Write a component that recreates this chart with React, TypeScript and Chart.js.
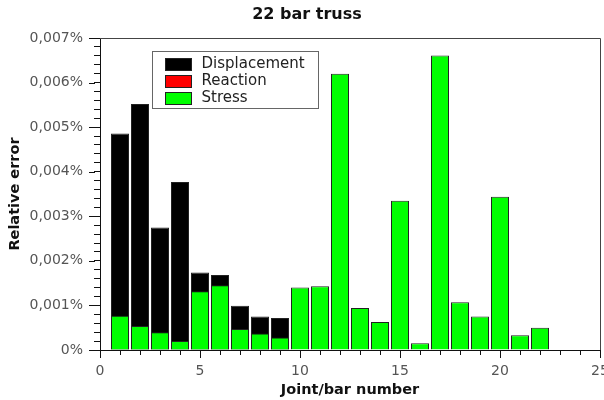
import { useEffect, useRef } from 'react';
import { Chart, registerables } from 'chart.js';

Chart.register(...registerables);

const chartTitle = '22 bar truss';
const xAxisTitle = 'Joint/bar number';
const yAxisTitle = 'Relative error';

const seriesNames = ['Displacement', 'Reaction', 'Stress'];
const seriesColors = ['#000000', '#ff0000', '#00ff00'];

// joint numbers and relative errors (in %)
const displacementJoints = [1, 2, 3, 4, 5, 6, 7, 8, 9];
const displacementError = [0.00486, 0.00552, 0.00275, 0.00377, 0.00174, 0.00168, 0.00099, 0.00075, 0.00072];

const reactionJoints: number[] = [];
const reactionError: number[] = [];

const stressBars = [1, 2, 3, 4, 5, 6, 7, 8, 9, 10, 11, 12, 13, 14, 15, 16, 17, 18, 19, 20, 21, 22];
const stressError = [
  0.00077, 0.00054, 0.0004, 0.0002, 0.00132, 0.00145, 0.00047, 0.00037, 0.00028, 0.0014, 0.00143,
  0.0062, 0.00094, 0.00063, 0.00335, 0.00015, 0.00661, 0.00107, 0.00075, 0.00344, 0.00033, 0.0005,
];

const xTicks = [0, 5, 10, 15, 20, 25];
const xTickLabels = ['0', '5', '10', '15', '20', '25'];
const yTicks = [0, 0.001, 0.002, 0.003, 0.004, 0.005, 0.006, 0.007];
const yTickLabels = ['0%', '0,001%', '0,002%', '0,003%', '0,004%', '0,005%', '0,006%', '0,007%'];
const minorPerMajor = 5;

const FONT = "'DejaVu Sans', sans-serif";

// every major tick plus the minor subdivisions between them
const withMinors = (majors: number[]) => {
  const out: { value: number; major: boolean; label: number }[] = [];
  majors.forEach((m, k) => {
    out.push({ value: m, major: true, label: k });
    if (k < majors.length - 1) {
      for (let j = 1; j < minorPerMajor; j++) {
        out.push({ value: m + ((majors[k + 1] - m) * j) / minorPerMajor, major: false, label: -1 });
      }
    }
  });
  return out;
};

const framePlugin = {
  id: 'frameAndLegend',
  afterDraw(chart: any) {
    const { ctx, chartArea } = chart;
    const { left, right, top, bottom } = chartArea;
    const x = chart.scales.x;
    const y = chart.scales.y;
    const L = Math.round(left);
    const B = Math.round(bottom);
    ctx.save();
    ctx.lineWidth = 1;
    ctx.strokeStyle = '#444';
    ctx.beginPath();
    ctx.moveTo(L, Math.round(top) + 0.5);
    ctx.lineTo(Math.round(right) + 0.5, Math.round(top) + 0.5);
    ctx.lineTo(Math.round(right) + 0.5, B);
    ctx.stroke();

    // lengthen the major ticks
    ctx.strokeStyle = '#111';
    ctx.beginPath();
    xTicks.forEach((v) => {
      const px = Math.round(x.getPixelForValue(v)) + 0.5;
      ctx.moveTo(px, B + 4);
      ctx.lineTo(px, B + 8);
    });
    yTicks.forEach((v) => {
      const py = Math.round(y.getPixelForValue(v)) + 0.5;
      ctx.moveTo(L - 11, py);
      ctx.lineTo(L - 5, py);
    });
    ctx.stroke();

    // legend box inside the plot area
    const datasets = chart.data.datasets;
    const bx = L + 52.5;
    const by = Math.round(top) + 13.5;
    const bw = 166;
    const bh = 57;
    ctx.fillStyle = '#ffffff';
    ctx.fillRect(bx, by, bw, bh);
    ctx.strokeStyle = '#666';
    ctx.strokeRect(bx, by, bw, bh);
    ctx.font = `15px ${FONT}`;
    ctx.textBaseline = 'middle';
    ctx.textAlign = 'left';
    datasets.forEach((ds: any, i: number) => {
      const cy = by + 13 + i * 17;
      ctx.fillStyle = ds.backgroundColor;
      ctx.fillRect(bx + 13, cy - 6, 26, 12);
      ctx.strokeStyle = '#222';
      ctx.strokeRect(bx + 13, cy - 6, 26, 12);
      ctx.fillStyle = '#222';
      ctx.fillText(ds.label, bx + 49, cy);
    });
    ctx.restore();
  },
};

export default function App() {
  const canvasRef = useRef<HTMLCanvasElement | null>(null);

  useEffect(() => {
    if (!canvasRef.current) return;
    const mk = (xs: number[], ys: number[]) => xs.map((x, i) => ({ x, y: ys[i] }));
    const xAll = withMinors(xTicks);
    const yAll = withMinors(yTicks);
    const chart = new Chart(canvasRef.current, {
      type: 'bar',
      data: {
        datasets: [
          {
            label: seriesNames[0],
            data: mk(displacementJoints, displacementError),
            backgroundColor: seriesColors[0],
            borderColor: '#222',
            borderWidth: 1,
            order: 2,
          },
          {
            label: seriesNames[1],
            data: mk(reactionJoints, reactionError),
            backgroundColor: seriesColors[1],
            borderColor: '#222',
            borderWidth: 1,
            order: 1,
          },
          {
            label: seriesNames[2],
            data: mk(stressBars, stressError),
            backgroundColor: seriesColors[2],
            borderColor: '#222',
            borderWidth: 1,
            order: 0,
          },
        ] as any,
      },
      options: {
        responsive: false,
        animation: false,
        grouped: false,
        barPercentage: 0.9,
        categoryPercentage: 1,
        layout: { padding: { left: 10, right: 0, top: 0, bottom: 0 } },
        plugins: {
          legend: { display: false },
          tooltip: { enabled: false },
          title: {
            display: true,
            text: chartTitle,
            color: '#111',
            font: { family: FONT, size: 16, weight: 'bold' },
            padding: { top: 5.4, bottom: 13.4 },
          },
        },
        scales: {
          x: {
            type: 'linear',
            min: 0,
            max: 25,
            offset: false,
            bounds: 'ticks',
            afterBuildTicks: (scale: any) => {
              scale.ticks = xAll.map((t) => ({ value: t.value }));
            },
            afterFit: (scale: any) => {
              scale.height = 50;
              scale.paddingRight = 4;
              scale.paddingLeft = 0;
            },
            ticks: {
              autoSkip: false,
              maxRotation: 0,
              color: '#555',
              font: { family: FONT, size: 14 },
              padding: 8,
              callback: (_v: any, i: number) => (xAll[i] && xAll[i].major ? xTickLabels[xAll[i].label] : ''),
            },
            grid: { offset: false, drawOnChartArea: false, drawTicks: true, tickLength: 5, color: '#111' },
            border: { display: true, color: '#111' },
            title: {
              display: true,
              text: xAxisTitle,
              color: '#111',
              font: { family: FONT, size: 14.5, weight: 'bold' },
              padding: { top: 0, bottom: 1.3 },
            },
          },
          y: {
            type: 'linear',
            min: 0,
            max: 0.007,
            afterBuildTicks: (scale: any) => {
              scale.ticks = yAll.map((t) => ({ value: t.value }));
            },
            afterFit: (scale: any) => {
              scale.width = 90;
            },
            ticks: {
              autoSkip: false,
              color: '#555',
              font: { family: FONT, size: 14 },
              padding: 11,
              callback: (_v: any, i: number) => (yAll[i] && yAll[i].major ? yTickLabels[yAll[i].label] : ''),
            },
            grid: { drawOnChartArea: false, drawTicks: true, tickLength: 6, color: '#111' },
            border: { display: true, color: '#111' },
            title: {
              display: true,
              text: yAxisTitle,
              color: '#111',
              font: { family: FONT, size: 14.5, weight: 'bold' },
              padding: { top: -3.7, bottom: 0 },
            },
          },
        },
      } as any,
      plugins: [framePlugin],
    });
    return () => chart.destroy();
  }, []);

  return (
    <div style={{ position: 'absolute', left: 0, top: 0, width: 604, height: 400, background: '#fff' }}>
      <canvas ref={canvasRef} width={604} height={400} style={{ display: 'block' }} />
    </div>
  );
}
